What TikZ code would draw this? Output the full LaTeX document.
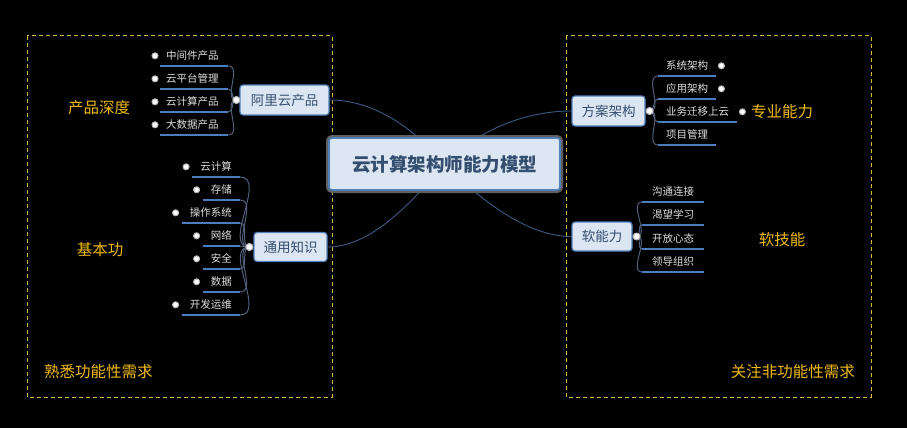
\documentclass[tikz,border=0pt]{standalone}
\usepackage{fontspec}
\newfontfamily\cjk{Noto Sans CJK SC}
\usetikzlibrary{backgrounds,calc}
\definecolor{gold}{RGB}{238,186,20}
\definecolor{boxgold}{RGB}{212,185,55}
\definecolor{nodefill}{RGB}{220,230,242}
\definecolor{nodeborder}{RGB}{79,129,189}
\definecolor{nodetext}{RGB}{52,78,112}
\definecolor{leaftext}{RGB}{222,222,222}
\definecolor{ulblue}{RGB}{74,126,190}
\definecolor{brblue}{RGB}{80,95,122}
\definecolor{mainline}{RGB}{60,90,132}
\definecolor{framegray}{RGB}{95,95,95}
\begin{document}
\begin{tikzpicture}[x=1pt,y=-1pt,
  leaf/.style={text=leaftext, font=\cjk\fontsize{10.5}{12}\selectfont, text height=10pt, text depth=6pt, inner ysep=0pt},
  leafA/.style={leaf, text width=56pt, align=left, inner xsep=6pt, anchor=south west},
  leafB/.style={leaf, inner xsep=8pt, anchor=south east},
  leafC/.style={leaf, inner xsep=8pt, anchor=south west},
  leafD/.style={leaf, inner xsep=10pt, anchor=south west},
  lvone/.style={draw=nodeborder, line width=1.2pt, fill=nodefill, rounded corners=3pt, text=nodetext, font=\cjk\fontsize{13.5}{15}\selectfont, inner sep=0pt},
  central/.style={preaction={draw=framegray, line width=6pt, rounded corners=4pt}, draw=nodeborder, line width=1.6pt, fill=nodefill, rounded corners=3pt, text=nodetext, font=\cjk\bfseries\fontsize{18.5}{20}\selectfont, minimum width=231pt, minimum height=52pt, inner sep=0pt},
  bullet/.style={circle, inner sep=0pt, minimum size=6pt, fill=white, draw=gray!55, line width=1pt},
  pdot/.style={circle, inner sep=0pt, minimum size=7pt, fill=white, draw=gray!55, line width=1pt},
  ul/.style={draw=ulblue, line width=1.5pt},
  br/.style={draw=brblue, line width=1pt},
  mainl/.style={draw=mainline, line width=0.9pt},
  lab/.style={text=gold, font=\cjk\fontsize{15.5}{17}\selectfont, inner sep=0pt},
  dbox/.style={draw=boxgold, line width=1pt, dash pattern=on 4pt off 3pt}
]
% central
\node[central] (M) at (444.5,164) {云计算架构师能力模型};
% level one
\node[lvone, minimum width=89pt, minimum height=30pt] (A) at (284.5,100) {阿里云产品};
\node[lvone, minimum width=73pt, minimum height=29pt] (B) at (290.5,247) {通用知识};
\node[lvone, minimum width=73pt, minimum height=30pt] (C) at (608.5,111) {方案架构};
\node[lvone, minimum width=60pt, minimum height=29pt] (D) at (602,236.5) {软能力};
\node[pdot] (Ad) at ([xshift=-3pt]A.west) {};
\node[pdot] (Bd) at ([xshift=-4pt]B.west) {};
\node[pdot] (Cd) at ([xshift=4pt]C.east) {};
\node[pdot] (Dd) at ([xshift=4pt]D.east) {};
% group A
\node[leafA] (a1) at (160,66) {中间件产品};
\node[leafA] (a2) at (160,89) {云平台管理};
\node[leafA] (a3) at (160,112) {云计算产品};
\node[leafA] (a4) at (160,135) {大数据产品};
% group B
\node[leafB] (b1) at (240,177) {云计算};
\node[leafB] (b2) at (240,200) {存储};
\node[leafB] (b3) at (240,223) {操作系统};
\node[leafB] (b4) at (240,246) {网络};
\node[leafB] (b5) at (240,269) {安全};
\node[leafB] (b6) at (240,292) {数据};
\node[leafB] (b7) at (240,315) {开发运维};
% group C
\node[leafC] (c1) at (658,76) {系统架构};
\node[leafC] (c2) at (658,99) {应用架构};
\node[leafC] (c3) at (658,122) {业务迁移上云};
\node[leafC] (c4) at (658,145) {项目管理};
% group D
\node[leafD] (d1) at (642,202) {沟通连接};
\node[leafD] (d2) at (642,225) {渴望学习};
\node[leafD] (d3) at (642,249) {开放心态};
\node[leafD] (d4) at (642,272) {领导组织};
% bullets
\foreach \n in {a1,a2,a3,a4}{\node[bullet] at ([shift={(-5pt,2pt)}]\n.west) {};}
\foreach \n in {b1,b2,b3,b4,b5,b6,b7}{\node[bullet] at ([shift={(-6pt,2pt)}]\n.west) {};}
\foreach \n in {c1,c2,c3}{\node[bullet] at ([shift={(5pt,2pt)}]\n.east) {};}
% labels
\node[lab] (l1) at (99,108) {产品深度};
\node[lab] (l2) at (100,250) {基本功};
\node[lab] (l3) at (782,112) {专业能力};
\node[lab] (l4) at (782,240) {软技能};
\node[lab, anchor=west] (l5) at (44,372) {熟悉功能性需求};
\node[lab, anchor=east] (l6) at (855,372) {关注非功能性需求};
\begin{scope}[on background layer]
\fill[black] (0,0) rectangle (907,428);
\draw[dbox] (27,36) rectangle (332,397);
\draw[dbox] (566,36) rectangle (871,397);
\draw[mainl] (A.east) .. controls +(45,0) and +(-30,-35) .. (M.center);
\draw[mainl] (B.east) .. controls +(45,0) and +(-30,35) .. (M.center);
\draw[mainl] (C.west) .. controls +(-45,0) and +(35,-35) .. (M.center);
\draw[mainl] (D.west) .. controls +(-45,0) and +(35,35) .. (M.center);
\foreach \n in {a1,a2,a3,a4}{\draw[br] (Ad.center) to[out=180,in=0] (\n.south east); \draw[ul] (\n.south west) -- (\n.south east);}
\foreach \n in {b1,b2,b3,b4,b5,b6,b7}{\draw[br] (Bd.center) to[out=180,in=0] (\n.south east); \draw[ul] (\n.south west) -- (\n.south east);}
\foreach \n in {c1,c2,c3,c4}{\draw[br] (Cd.center) to[out=0,in=180] (\n.south west); \draw[ul] (\n.south west) -- (\n.south east);}
\foreach \n in {d1,d2,d3,d4}{\draw[br] (Dd.center) to[out=0,in=180] (\n.south west); \draw[ul] (\n.south west) -- (\n.south east);}
\end{scope}
\end{tikzpicture}
\end{document}
